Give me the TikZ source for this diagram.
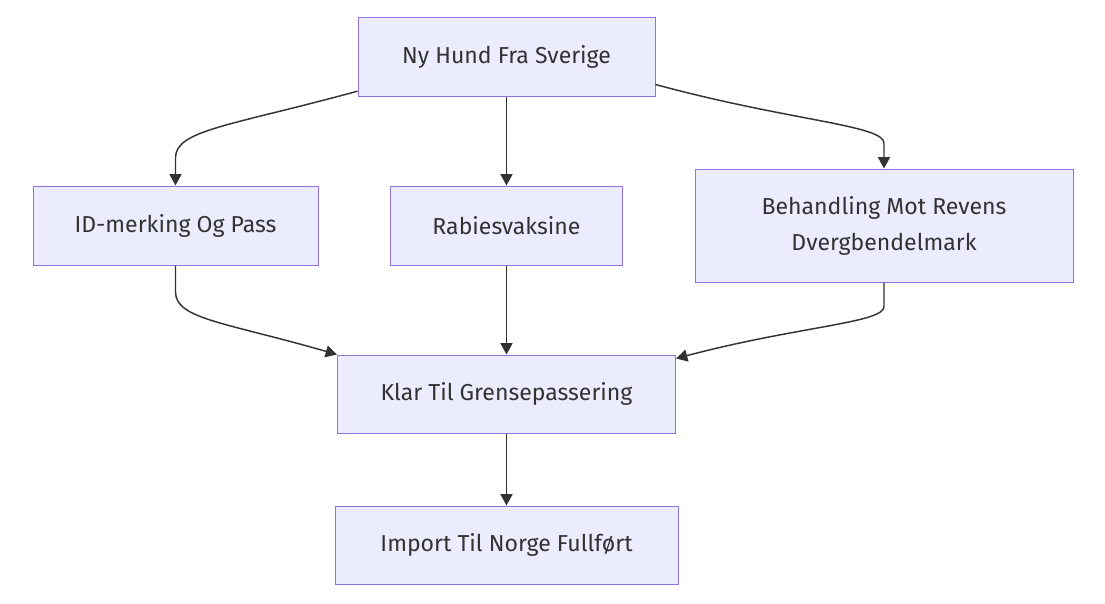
\documentclass[tikz,border=0pt]{standalone}
\usepackage{fontspec}
\setmainfont{Fira Sans}
\usetikzlibrary{arrows.meta}
\definecolor{boxfill}{HTML}{ECECFF}
\definecolor{boxline}{HTML}{9370DB}
\definecolor{ink}{HTML}{333333}
\begin{document}
\begin{tikzpicture}[x=0.75pt,y=0.75pt]
\tikzstyle{every node}+=[inner sep=0pt]
\tikzstyle{step box}=[draw=boxline,fill=boxfill,line width=0.75pt,text=ink,align=center,
  font=\fontsize{17.3}{27}\selectfont,minimum height=59.25pt]
\tikzstyle{flow}=[ink,line width=1.1pt,-{Triangle[length=8.5pt,width=9pt]}]
\useasboundingbox (0,0) rectangle (1105,-603);
% boxes
\node [step box,minimum width=222.75pt] (hund) at (506.5,-56.5) {Ny Hund Fra Sverige};
\node [step box,minimum width=213.75pt] (idpass) at (175.5,-225.5) {ID-merking Og Pass};
\node [step box,minimum width=174pt] (rabies) at (506.5,-225.5) {Rabiesvaksine};
\node [step box,minimum width=283.5pt,minimum height=84.75pt] (orm) at (884,-225.5) {Behandling Mot Revens\\Dvergbendelmark};
\node [step box,minimum width=253.5pt,minimum height=58.5pt] (klar) at (506.5,-394) {Klar Til Grensepassering};
\node [step box,minimum width=257.25pt,minimum height=58.5pt] (norge) at (506.5,-545) {Import Til Norge Fullført};
% edges
\draw [flow] ([yshift=4]hund.south west) .. controls (230,-126) and (176,-130) .. ([yshift=21]idpass.north) -- (idpass.north);
\draw [flow] (hund.south) -- (rabies.north);
\draw [flow] ([yshift=9]hund.south east) .. controls (790,-121) and (884,-125) .. ([yshift=19]orm.north) -- (orm.north);
\draw [flow] (idpass.south) -- ([yshift=-20]idpass.south) .. controls (176,-319) and (224,-322) .. (klar.north west);
\draw [flow] (rabies.south) -- (klar.north);
\draw [flow] (orm.south) -- ([yshift=-18]orm.south) .. controls (884,-323) and (799,-326) .. ([yshift=-3]klar.north east);
\draw [flow] (klar.south) -- (norge.north);
\end{tikzpicture}
\end{document}
